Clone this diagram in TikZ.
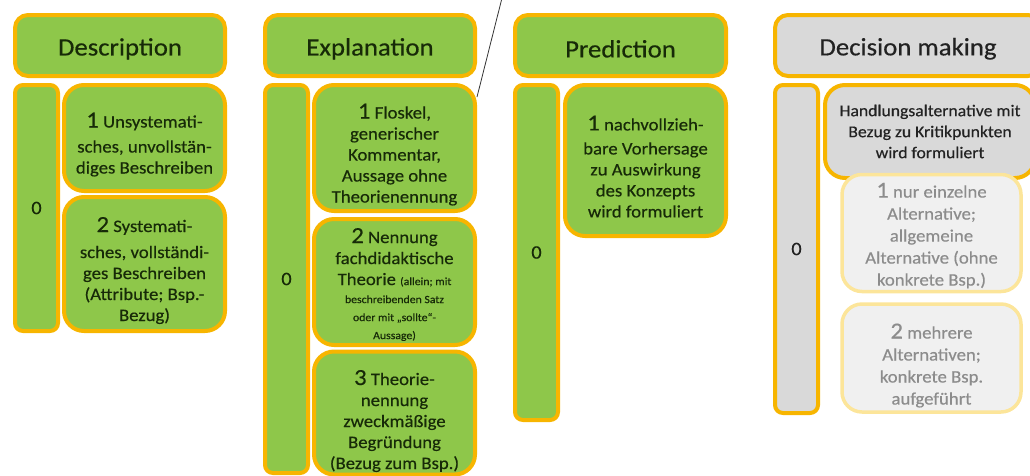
\documentclass[tikz,border=0pt]{standalone}
\usepackage{fontspec}
\setmainfont{Carlito}[FakeStretch=1.07,FakeBold=0.4]
\definecolor{grn}{HTML}{8EC74A}
\definecolor{gold}{HTML}{F7B500}
\definecolor{txt}{HTML}{172A08}
\definecolor{gry}{HTML}{D9D9D9}
\definecolor{lgry}{HTML}{F0F0F0}
\definecolor{lgold}{HTML}{FCE59A}
\definecolor{gtxt}{HTML}{8C8C8C}
\definecolor{dtxt}{HTML}{222222}
\newcommand\bignum[1]{{\fontsize{23}{21}\selectfont #1}}
\newcommand\smalltx[1]{{\fontsize{11}{13}\selectfont #1}}
\newcommand\lift[1]{\rule{0pt}{#1}}
\begin{document}
\begin{tikzpicture}[x=1pt,y=-1pt,
  box/.style={draw=gold, line width=4pt, fill=grn, rounded corners=20pt, align=center,
    text=txt, inner sep=0pt, font=\fontsize{17.5}{21}\selectfont},
  head/.style={box, rounded corners=13pt, font=\fontsize{25}{28}\selectfont},
  bar/.style={box, rounded corners=8pt, font=\fontsize{19}{21}\selectfont},
  graybox/.style={box, fill=gry, text=dtxt},
  fadebox/.style={box, fill=lgry, draw=lgold, line width=3.5pt, text=gtxt},
]
\useasboundingbox (0,0) rectangle (1030,475);
\clip (0,0) rectangle (1030,475);

% Column 1: Description
\node[head, minimum width=210pt, minimum height=61pt] (h1) at (120,45.5) {\lift{24pt}Description};
\node[bar, minimum width=43pt, minimum height=246pt] (b1) at (36.5,208) {0};
\node[box, minimum width=161pt, minimum height=106pt] (d1) at (144.5,138)
  {\lift{28pt}\bignum{1} Unsystemati-\\[4pt]sches, unvollstän-\\diges Beschreiben};
\node[box, minimum width=161pt, minimum height=134pt] (d2) at (144.5,264)
  {\lift{28pt}\bignum{2} Systemati-\\[5pt]sches, vollständi-\\ges Beschreiben\\(Attribute; Bsp.-\\Bezug)};

% Column 2: Explanation
\node[head, minimum width=210pt, minimum height=61pt] (h2) at (370,45.5) {\lift{24pt}Explanation};
\node[bar, minimum width=43pt, minimum height=388pt] (b2) at (286.5,279) {0};
\node[box, minimum width=161pt, minimum height=126pt] (e1) at (394.5,148)
  {\lift{28pt}\bignum{1} Floskel,\\generischer\\Kommentar,\\Aussage ohne\\Theorienennung};
\node[box, minimum width=161pt, minimum height=126pt] (e2) at (394.5,282)
  {\lift{20pt}\bignum{2} Nennung\\fachdidaktische\\Theorie \smalltx{(allein; mit}\\[-3pt]
   \smalltx{beschreibenden Satz}\\[-3pt]\smalltx{oder mit „sollte“-}\\[-3pt]\smalltx{Aussage)}};
\node[box, minimum width=161pt, minimum height=123pt] (e3) at (394.5,413)
  {\lift{31pt}\bignum{3} Theorie-\\nennung\\zweckmäßige\\Begründung\\(Bezug zum Bsp.)};

% Column 3: Prediction
\node[head, minimum width=211pt, minimum height=61pt] (h3) at (620.5,45.5) {\lift{24pt}Prediction};
\node[bar, minimum width=43pt, minimum height=335pt] (b3) at (536.5,252.5) {0};
\node[box, minimum width=161pt, minimum height=151pt] (p1) at (645.5,160.5)
  {\lift{27pt}\bignum{1} nachvollzieh-\\[3pt]bare Vorhersage\\zu Auswirkung\\des Konzepts\\wird formuliert};

% Column 4: Decision making
\node[head, fill=gry, text=dtxt, minimum width=266pt, minimum height=61pt] (h4) at (908,45.5) {\lift{24pt}Decision making};
\node[bar, fill=gry, text=dtxt, minimum width=43pt, minimum height=328pt] (b4) at (796.5,249) {0};
\node[graybox, minimum width=210pt, minimum height=93pt, font=\fontsize{16.5}{21}\selectfont]
  (k) at (930,131.5)
  {Handlungsalternative  mit\\Bezug zu Kritikpunkten\\wird formuliert};
\node[fadebox, minimum width=179pt, minimum height=117pt] (f1) at (931.5,233)
  {\lift{20pt}\bignum{1} nur einzelne\\[1pt]Alternative;\\[1pt]allgemeine\\[1pt]Alternative (ohne\\[1pt]konkrete Bsp.)};
\node[fadebox, minimum width=179pt, minimum height=108pt] (f2) at (931.5,358)
  {\lift{30pt}\bignum{2} mehrere\\[1pt]Alternativen;\\[1pt]konkrete Bsp.\\[1pt]aufgeführt};

% diagonal line
\coordinate (l1) at (502,-2);
\coordinate (l2) at (477,97);
\draw[line width=0.8pt, black!80] (l1) -- (l2);
\end{tikzpicture}
\end{document}
